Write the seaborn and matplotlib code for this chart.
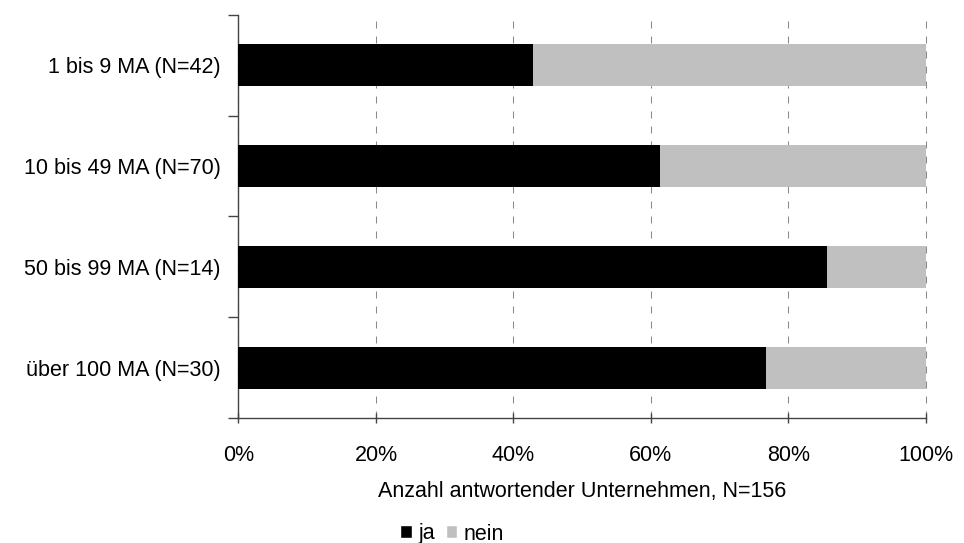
import matplotlib
matplotlib.use("Agg")
import matplotlib.pyplot as plt
import seaborn as sns
import pandas as pd
from matplotlib.patches import Patch
from matplotlib.ticker import PercentFormatter

categories = ["1 bis 9 MA (N=42)", "10 bis 49 MA (N=70)", "50 bis 99 MA (N=14)", "über 100 MA (N=30)"]
ja = [42.9, 61.4, 85.7, 76.7]
nein = [57.1, 38.6, 14.3, 23.3]
x_ticks = [0, 20, 40, 60, 80, 100]

sns.set_style("white", {"text.color": "black", "axes.labelcolor": "black",
                        "xtick.color": "black", "ytick.color": "black"})
plt.rcParams["font.family"] = ["Liberation Sans", "DejaVu Sans"]
FS = 15.5

df = pd.DataFrame({"Gruppe": categories, "ja": ja, "nein": nein})
df["gesamt"] = df["ja"] + df["nein"]

fig = plt.figure(figsize=(9.64, 5.43), dpi=100)
ax = fig.add_axes([0.2474, 0.2302, 0.9603 - 0.2474, 0.9724 - 0.2302])

# Stacked horizontal bars: full length in grey, "ja" share on top in black
sns.barplot(data=df, y="Gruppe", x="gesamt", color="#c0c0c0", width=0.417,
            saturation=1, ax=ax, orient="h", zorder=3, linewidth=0)
sns.barplot(data=df, y="Gruppe", x="ja", color="#000000", width=0.417,
            saturation=1, ax=ax, orient="h", zorder=4, linewidth=0)

ax.set_xlim(0, 100)
ax.set_ylim(3.5, -0.5)
ax.set_xticks(x_ticks)
ax.xaxis.set_major_formatter(PercentFormatter(decimals=0))

# Category boundaries carry the tick marks, category centres carry the labels
ax.set_yticks([-0.5, 0.5, 1.5, 2.5, 3.5])
ax.set_yticklabels([])
ax.set_yticks(range(len(categories)), minor=True)
ax.set_yticklabels(categories, minor=True)
ax.tick_params(axis="y", which="minor", left=False, length=0, pad=13, labelsize=FS)
ax.tick_params(axis="y", which="major", left=True, length=7, width=1,
               color="#444444", direction="out")
ax.tick_params(axis="x", bottom=True, length=7, width=1, color="#444444",
               direction="inout", labelsize=FS, pad=16)

ax.xaxis.grid(True, color="#8a8a8a", linewidth=0.75, linestyle=(0, (6.7, 7.7)), zorder=0)
ax.yaxis.grid(False)
ax.set_axisbelow(True)
for gl in ax.xaxis.get_gridlines():
    gl.set_clip_on(False)

for side in ("top", "right"):
    ax.spines[side].set_visible(False)
for side in ("left", "bottom"):
    ax.spines[side].set_color("#444444")
    ax.spines[side].set_linewidth(1)

ax.set_ylabel("")
ax.set_xlabel("Anzahl antwortender Unternehmen, N=156", fontsize=FS, labelpad=11)

handles = [Patch(facecolor="#000000", label="ja"), Patch(facecolor="#c0c0c0", label="nein")]
fig.legend(handles=handles, loc="center", bbox_to_anchor=(452 / 964, 1 - 534 / 543),
           ncol=2, frameon=False, fontsize=FS, handlelength=0.55, handleheight=0.55,
           handletextpad=0.3, columnspacing=0.5, borderpad=0)

fig.savefig("out.png", dpi=100)
